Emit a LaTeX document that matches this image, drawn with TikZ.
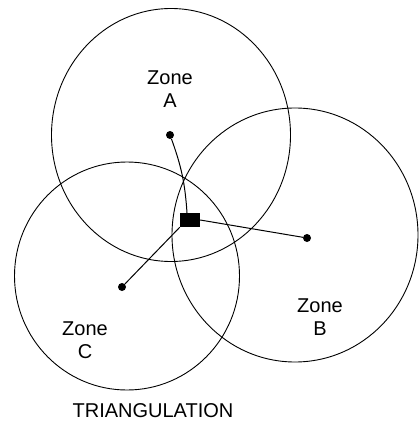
\documentclass[tikz,border=0pt]{standalone}
\usepackage{fontspec}
\setmainfont{Liberation Sans}
\usepackage{xcolor}
\usepackage{tikz}
\usetikzlibrary{shapes.geometric, positioning}

\begin{document}
\begin{tikzpicture}[x=1pt, y=-1pt,
    zone/.style={draw, ellipse, line width=0.9pt, inner sep=0pt},
    site/.style={circle, fill=black, inner sep=0pt, minimum size=8pt},
    label/.style={align=center, font=\fontsize{20}{23}\selectfont}]
    \useasboundingbox (0,0) rectangle (419,423);
    \fill[white] (0,0) rectangle (419,423);

    % the three zones
    \node[zone, minimum width=239pt, minimum height=253pt] (zoneA) at (171,135) {};
    \node[zone, minimum width=246pt, minimum height=254pt] (zoneB) at (295,235) {};
    \node[zone, minimum width=225pt, minimum height=228pt] (zoneC) at (127,276) {};

    \node[site] (siteA) at (170,135) {};
    \node[site] (siteB) at (307,238) {};
    \node[site] (siteC) at (122,287) {};

    \node[fill=black, minimum width=20pt, minimum height=14pt, inner sep=0pt] (fix) at (190,220) {};

    \draw[line width=1pt] (siteA) to[bend left=8] ([xshift=-3pt]fix.north);
    \draw[line width=1pt] (siteB) -- (fix.east);
    \draw[line width=1pt] (siteC) -- (fix.south west);

    \node[label] (labelA) at (170,89) {Zone\\A};
    \node[label] (labelB) at (320,317) {Zone\\B};
    \node[label] (labelC) at (85,340) {Zone\\C};
    \node[label] (title) at (153,411) {TRIANGULATION};
\end{tikzpicture}
\end{document}
